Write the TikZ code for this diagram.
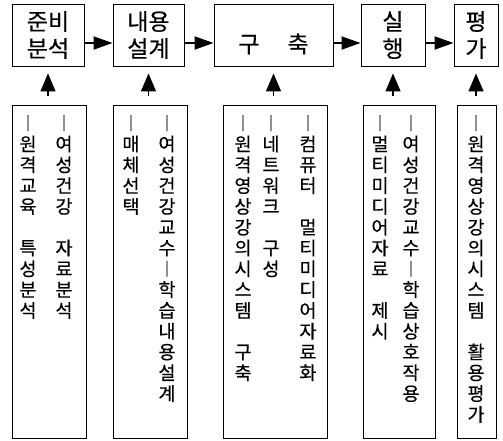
\documentclass[tikz,border=0pt]{standalone}
\usepackage{fontspec}
\newfontfamily\kr{Noto Sans CJK KR}[FakeBold=0.4]
\usetikzlibrary{shapes,arrows.meta,calc}
\tikzstyle{stage} = [draw, rectangle, line width=0.9pt, minimum height=62pt, inner sep=0pt, align=center, font=\kr\fontsize{23}{27}\selectfont]
\tikzstyle{task} = [draw, rectangle, line width=0.9pt, minimum height=333pt, inner sep=0pt]
\tikzstyle{col} = [anchor=north, text width=24pt, align=center, inner sep=0pt, font=\kr\fontsize{18.5}{20.8}\selectfont]
\tikzstyle{flow} = [draw, line width=1.8pt, -{Triangle[length=19pt,width=13pt]}]
\tikzstyle{up} = [draw, line width=1.4pt, -{Triangle[length=18pt,width=15pt]}, shorten <=9pt, shorten >=7pt]
% one character per line, ~ leaves an empty slot
\makeatletter
\newcommand{\vcol}[1]{\@tfor\ch:=#1\do{\ch\\}}
\makeatother

\begin{document}
\begin{tikzpicture}[x=1pt, y=-1pt, node distance=236.5pt]
        \useasboundingbox (0,0) rectangle (503,441);
        % stages
        \node[stage, minimum width=72pt] (t1) at (48,35) {준비\\분석};
        \node[stage, minimum width=71pt, right of=t1, node distance=100.5pt] (t2) {내용\\설계};
        \node[stage, minimum width=119pt, right of=t2, node distance=125pt] (t3) {};
        \node[font=\kr\fontsize{23}{27}\selectfont] (t3text) at ([yshift=-9pt]t3.center) {구\hspace{28pt}축};
        \node[stage, minimum width=64pt, right of=t3, node distance=119.5pt] (t4) {실\\행};
        \node[stage, minimum width=44pt, right of=t4, node distance=83pt] (t5) {평\\가};
        % tasks
        \node[task, minimum width=74pt, below of=t1, xshift=1pt] (b1) {};
        \node[task, minimum width=74pt, below of=t2, xshift=1.5pt] (b2) {};
        \node[task, minimum width=104pt, below of=t3, xshift=1.5pt] (b3) {};
        \node[task, minimum width=72pt, below of=t4, xshift=6pt] (b4) {};
        \node[task, minimum width=39pt, below of=t5, xshift=0.5pt] (b5) {};
        \node[col] (c12) at (28,115) {\vcol{︱원격교육~특성분석}};
        \node[col] (c11) at (64,115) {\vcol{︱여성건강~자료분석}};
        \node[col] (c22) at (131,115) {\vcol{︱매체선택}};
        \node[col] (c21) at (167,115) {\vcol{︱여성건강교수︱학습내용설계}};
        \node[col] (c33) at (243,115) {\vcol{︱원격영상강의시스템~구축}};
        \node[col] (c32) at (271,115) {\vcol{︱네트워크~구성}};
        \node[col] (c31) at (308,115) {\vcol{︱컴퓨터~멀티미디어자료화}};
        \node[col] (c42) at (380,115) {\vcol{︱멀티미디어자료~제시}};
        \node[col] (c41) at (411,115) {\vcol{︱여성건강교수︱학습상호작용}};
        \node[col] (c51) at (476,115) {\vcol{︱원격영상강의시스템~활용평가}};
        % flow
        \path[flow] ([yshift=-8pt]t1.east) -- ([yshift=-8pt]t2.west);
        \path[flow] ([yshift=-8pt]t2.east) -- ([yshift=-8pt]t3.west);
        \path[flow] ([yshift=-8pt]t3.east) -- ([yshift=-8pt]t4.west);
        \path[flow] ([yshift=-8pt]t4.east) -- ([yshift=-8pt]t5.west);
        \foreach \i in {1,...,5}
            \path[up] (b\i.north -| t\i.south) -- (t\i.south);
\end{tikzpicture}
\end{document}
